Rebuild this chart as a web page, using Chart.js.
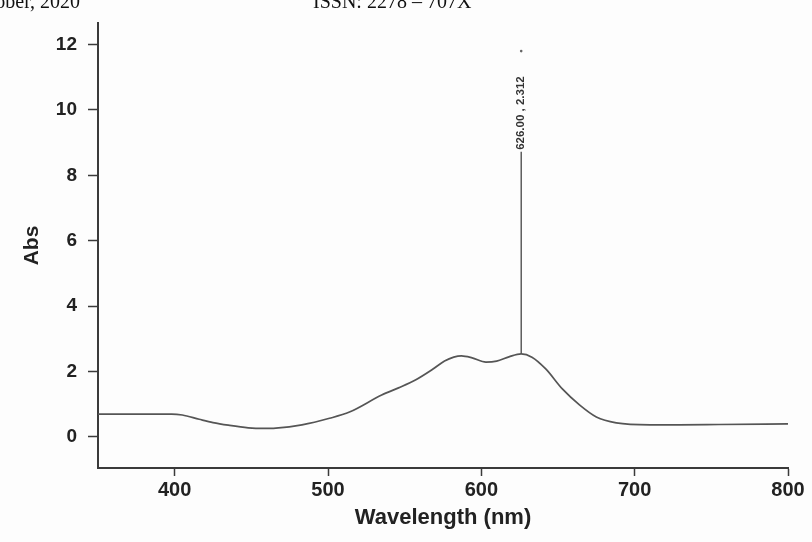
<!DOCTYPE html>
<html>
<head>
<meta charset="utf-8">
<script src="https://cdn.jsdelivr.net/npm/chart.js@4.4.1/dist/chart.umd.min.js"></script>
<style>
  html,body{margin:0;padding:0;background:#fdfdfd;}
  #wrap{position:relative;width:812px;height:542px;overflow:hidden;}
  .hdr{position:absolute;top:-9px;font-family:"Liberation Serif","Times New Roman",serif;font-size:20px;line-height:20px;color:#111;white-space:nowrap;}
</style>
</head>
<body>
<div id="wrap">
  <canvas id="spectrum" width="812" height="542"></canvas>
  <div class="hdr" style="right:732px;">October, 2020</div>
  <div class="hdr" style="left:313px;">ISSN: 2278 – 707X</div>
</div>
<script>
// spectrum
const wavelength = [350, 373, 398, 405, 416, 425, 435, 448, 458, 466, 483, 501, 514, 535, 546, 557, 568, 576, 582, 587, 594, 603, 610, 618, 626, 633, 642, 653, 664, 675, 688, 710, 729, 755, 800];
const absorbance = [0.70, 0.70, 0.70, 0.67, 0.54, 0.44, 0.36, 0.28, 0.26, 0.27, 0.37, 0.57, 0.76, 1.28, 1.50, 1.74, 2.06, 2.32, 2.44, 2.48, 2.42, 2.29, 2.32, 2.45, 2.54, 2.44, 2.08, 1.46, 0.98, 0.61, 0.43, 0.37, 0.37, 0.38, 0.40];

// peak marker
const peakX = 626;
const peakLine = [2.54, 8.72];
const peakDot = 11.8;
const peakLabel = "626.00 , 2.312";

const xTicks = [400, 500, 600, 700, 800];
const yTicks = [0, 2, 4, 6, 8, 10, 12];

const ink = '#3a3a3a';
const sans = '"Liberation Sans", Arial, sans-serif';
const tickFont = {family:sans, size:19, weight:'bold'};

const peakLabelPlugin = {
  id:'peakLabel',
  afterDatasetsDraw(chart){
    const {ctx, scales:{x, y}} = chart;
    ctx.save();
    ctx.translate(x.getPixelForValue(peakX), y.getPixelForValue(peakLine[1]) - 2);
    ctx.rotate(-Math.PI/2);
    ctx.font = 'bold 11.5px "Liberation Sans Narrow", "Liberation Sans", Arial, sans-serif';
    ctx.fillStyle = '#333';
    ctx.textAlign = 'left';
    ctx.textBaseline = 'middle';
    ctx.fillText(peakLabel, 0, 0);
    ctx.restore();
  }
};

new Chart(document.getElementById('spectrum').getContext('2d'), {
  type:'line',
  data:{
    datasets:[
      {data:wavelength.map((w,i)=>({x:w, y:absorbance[i]})), borderColor:'#555', borderWidth:1.7, pointRadius:0, cubicInterpolationMode:'monotone', fill:false},
      {data:peakLine.map(v=>({x:peakX, y:v})), borderColor:'#444', borderWidth:1.3, pointRadius:0, tension:0},
      {data:[{x:peakX, y:peakDot}], showLine:false, pointRadius:1.3, pointBackgroundColor:'#666', pointBorderWidth:0}
    ]
  },
  options:{
    responsive:false,
    animation:false,
    layout:{padding:{top:23, right:24, left:0, bottom:0}},
    plugins:{legend:{display:false}, tooltip:{enabled:false}},
    scales:{
      x:{
        type:'linear', min:350, max:800,
        afterBuildTicks: s=>{ s.ticks = xTicks.map(v=>({value:v})); },
        afterFit: s=>{ s.height = 74; },
        border:{display:true, color:ink, width:2},
        grid:{drawOnChartArea:false, drawTicks:true, tickLength:8, tickColor:ink, tickWidth:1.5},
        ticks:{color:'#222', font:{family:sans, size:20, weight:'bold'}, padding:2, maxRotation:0},
        title:{display:true, text:'Wavelength (nm)', color:'#222', font:{family:sans, size:22, weight:'bold'}, padding:{top:0, bottom:11}}
      },
      y:{
        type:'linear', min:-0.95, max:12.66,
        afterBuildTicks: s=>{ s.ticks = yTicks.map(v=>({value:v})); },
        afterFit: s=>{ s.width = 98; },
        border:{display:true, color:ink, width:2},
        grid:{drawOnChartArea:false, drawTicks:true, tickLength:10, tickColor:ink, tickWidth:1.5},
        ticks:{color:'#222', font:tickFont, padding:11},
        title:{display:true, text:'Abs', color:'#222', font:{family:sans, size:21, weight:'bold'}, padding:{top:20, bottom:0}}
      }
    }
  },
  plugins:[peakLabelPlugin]
});
</script>
</body>
</html>
